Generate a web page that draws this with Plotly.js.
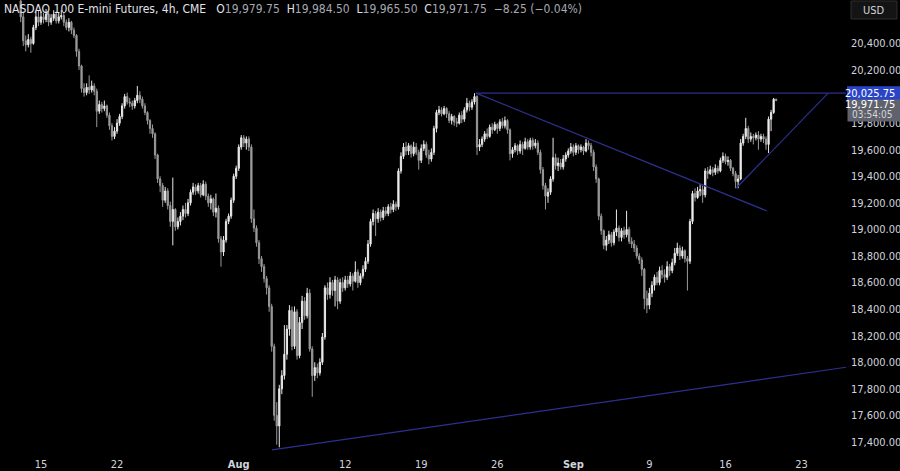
<!DOCTYPE html>
<html><head><meta charset="utf-8">
<script src="https://cdn.plot.ly/plotly-3.0.1.min.js"></script>
<style>html,body{margin:0;padding:0;background:#000;} #chart{width:900px;height:471px;}</style>
</head><body><div id="chart"></div>
<script>
// bar index of the first candle (0 = first 4h bar of Mon 15 Jul)
const firstBar = -8;

const openP = [
20720,20600,20420,20390,20430,20400,20520,20600,
20560,20600,20580,20620,20560,20590,20620,20570,20600,20610,
20560,20520,20560,20500,20460,20340,20230,20060,20030,20070,
20050,20080,20040,19890,19940,19910,19930,19860,19780,19700,
19740,19800,19850,19930,20000,19960,19950,19930,19970,20010,
19980,19930,19880,19820,19760,19720,19560,19380,19330,19220,
19290,19180,19060,19150,19020,19060,19100,19150,19120,19200,
19280,19320,19290,19330,19260,19340,19250,19200,19230,19130,
19160,18930,18830,18920,19060,19100,19220,19400,19460,19620,
19690,19650,19680,19620,19080,19010,18900,18780,18720,18630,
18560,18420,18120,17600,17520,17800,17900,18060,18250,18390,
18120,18380,18050,18300,18460,18350,18520,18100,17900,17960,
17920,18000,18190,18560,18510,18600,18540,18620,18460,18600,
18560,18620,18590,18650,18610,18680,18600,18650,18700,18760,
18890,19060,19120,19080,19130,19090,19140,19120,19170,19150,
19190,19170,19440,19550,19620,19590,19630,19570,19620,19580,
19520,19610,19640,19560,19530,19580,19760,19880,19900,19870,
19910,19870,19820,19850,19810,19800,19860,19830,19900,19950,
19920,19960,20000,19620,19640,19680,19720,19700,19770,19750,
19790,19760,19810,19780,19820,19750,19570,19600,19630,19590,
19640,19610,19660,19620,19670,19630,19650,19580,19450,19330,
19250,19280,19380,19540,19480,19500,19470,19530,19560,19590,
19620,19580,19630,19600,19620,19590,19650,19630,19580,19470,
19380,19100,18990,18880,18920,18960,18900,18980,19010,18940,
18990,18960,19000,18910,18890,18860,18800,18770,18700,18480,
18430,18520,18580,18640,18600,18690,18660,18640,18720,18690,
18750,18820,18860,18800,18840,18780,18760,19060,19270,19240,
19290,19300,19260,19440,19420,19450,19430,19460,19440,19520,
19550,19510,19520,19460,19420,19360,19380,19650,19700,19760,
19680,19700,19690,19710,19680,19700,19680,19640,19830,19880,
19979.75];

const highP = [
20760,20640,20460,20470,20450,20540,20640,20650,
20640,20630,20660,20640,20620,20650,20640,20630,20650,20630,
20580,20590,20570,20520,20470,20360,20240,20100,20100,20160,
20120,20100,20060,19970,19960,19970,19940,19880,19800,19770,
19830,19870,19950,20020,20030,19990,19970,19990,20080,20040,
20000,19950,19890,19830,19790,19730,19570,19400,19350,19320,
19310,19210,19390,19160,19090,19130,19180,19200,19230,19300,
19350,19340,19350,19350,19370,19360,19270,19260,19240,19270,
19180,18950,18950,19080,19120,19240,19420,19480,19640,19710,
19710,19700,19700,19640,19150,19030,18920,18800,18740,18650,
18580,18440,18140,17700,17830,17940,18280,18280,18430,18420,
18420,18400,18340,18500,18490,18560,18550,18120,18000,17990,
18030,18220,18580,18600,18640,18620,18650,18640,18630,18640,
18650,18650,18680,18670,18760,18700,18670,18730,18790,18920,
19080,19150,19140,19160,19150,19170,19170,19190,19200,19220,
19210,19460,19580,19650,19660,19650,19640,19660,19650,19600,
19640,19670,19660,19600,19610,19780,19900,19930,19920,19930,
19920,19890,19870,19860,19840,19880,19890,19920,19990,19970,
19980,20025.75,20010,19680,19700,19740,19760,19790,19800,19810,
19800,19830,19840,19850,19830,19760,19620,19650,19640,19670,
19660,19690,19680,19690,19690,19680,19670,19600,19470,19350,
19310,19400,19690,19570,19540,19530,19560,19580,19610,19650,
19640,19650,19640,19640,19630,19680,19670,19650,19600,19490,
19390,19120,19000,18950,18990,18980,19000,19150,19030,19010,
19020,19140,19020,18940,18920,18880,18820,18790,18710,18540,
18560,18610,18660,18680,18720,18730,18700,18760,18740,18780,
18860,18900,18880,18870,18850,18800,19080,19290,19310,19320,
19340,19330,19460,19470,19480,19470,19490,19480,19540,19580,
19570,19550,19530,19470,19440,19410,19680,19720,19840,19780,
19730,19720,19730,19740,19720,19720,19700,19850,19900,19990,
19984.5];

const lowP = [
20560,20380,20340,20370,20330,20390,20500,20530,
20540,20550,20560,20530,20540,20570,20550,20550,20580,20530,
20500,20490,20470,20440,20300,20200,20030,20000,20010,20020,
20030,20010,19770,19870,19880,19890,19840,19750,19670,19680,
19720,19780,19830,19910,19940,19920,19900,19910,19950,19950,
19910,19860,19790,19720,19690,19530,19350,19280,19170,19200,
19150,19020,18880,18990,19000,19030,19070,19090,19100,19180,
19260,19260,19270,19240,19250,19220,19170,19150,19100,19090,
18900,18720,18800,18900,19040,19080,19200,19380,19440,19600,
19620,19600,19590,19050,18980,18870,18740,18680,18600,18510,
18380,18080,17560,17380,17360,17760,17870,18020,18200,18090,
18100,18020,18030,18250,18320,18330,18080,17740,17860,17880,
17900,17980,18170,18470,18480,18500,18420,18400,18440,18530,
18540,18560,18570,18540,18600,18560,18580,18630,18680,18740,
18870,19030,18950,19050,19060,19070,19100,19100,19120,19130,
19140,19150,19420,19530,19560,19560,19540,19550,19560,19450,
19500,19590,19540,19490,19510,19560,19730,19860,19850,19860,
19840,19800,19790,19780,19770,19790,19800,19810,19880,19890,
19900,19940,19560,19590,19620,19660,19680,19690,19720,19740,
19720,19740,19760,19760,19720,19520,19540,19580,19560,19570,
19560,19600,19600,19600,19600,19610,19560,19420,19300,19150,
19200,19260,19360,19450,19440,19450,19450,19510,19540,19570,
19550,19560,19570,19580,19560,19580,19600,19550,19440,19350,
19070,18960,18850,18840,18890,18870,18880,18950,18910,18910,
18930,18940,18890,18860,18830,18780,18740,18650,18400,18370,
18400,18490,18540,18580,18580,18630,18600,18620,18650,18670,
18730,18800,18770,18780,18750,18540,18740,19040,19210,19230,
19250,19200,19240,19380,19410,19400,19410,19420,19430,19500,
19490,19480,19440,19400,19310,19310,19370,19630,19680,19650,
19660,19640,19670,19600,19660,19650,19600,19575,19740,19870,
19965.5];

const closeP = [
20600,20420,20390,20430,20400,20520,20600,20560,
20600,20580,20620,20560,20590,20620,20570,20600,20610,20560,
20520,20560,20500,20460,20340,20230,20060,20030,20070,20050,
20080,20040,19890,19940,19910,19930,19860,19780,19700,19740,
19800,19850,19930,20000,19960,19950,19930,19970,20010,19980,
19930,19880,19820,19760,19720,19560,19380,19330,19220,19290,
19180,19060,19150,19020,19060,19100,19150,19120,19200,19280,
19320,19290,19330,19260,19340,19250,19200,19230,19130,19160,
18930,18830,18920,19060,19100,19220,19400,19460,19620,19690,
19650,19680,19620,19080,19010,18900,18780,18720,18630,18560,
18420,18120,17600,17520,17800,17900,18060,18250,18390,18120,
18380,18050,18300,18460,18350,18520,18100,17900,17960,17920,
18000,18190,18560,18510,18600,18540,18620,18460,18600,18560,
18620,18590,18650,18610,18680,18600,18650,18700,18760,18890,
19060,19120,19080,19130,19090,19140,19120,19170,19150,19190,
19170,19440,19550,19620,19590,19630,19570,19620,19580,19520,
19610,19640,19560,19530,19580,19760,19880,19900,19870,19910,
19870,19820,19850,19810,19800,19860,19830,19900,19950,19920,
19960,20000,19620,19640,19680,19720,19700,19770,19750,19790,
19760,19810,19780,19820,19750,19570,19600,19630,19590,19640,
19610,19660,19620,19670,19630,19650,19580,19450,19330,19250,
19280,19380,19540,19480,19500,19470,19530,19560,19590,19620,
19580,19630,19600,19620,19590,19650,19630,19580,19470,19380,
19100,18990,18880,18920,18960,18900,18980,19010,18940,18990,
18960,19000,18910,18890,18860,18800,18770,18700,18480,18430,
18520,18580,18640,18600,18690,18660,18640,18720,18690,18750,
18820,18860,18800,18840,18780,18760,19060,19270,19240,19290,
19300,19260,19440,19420,19450,19430,19460,19440,19520,19550,
19510,19520,19460,19420,19360,19380,19650,19700,19760,19680,
19700,19690,19710,19680,19700,19680,19640,19830,19880,19980,
19971.75];

// date ticks (bar index of each labelled session) and their labels
const tickBars = [0, 30, 78, 120, 150, 180, 210, 240, 270, 300];
const tickLabels = ['15', '22', '<b>Aug</b>', '12', '19', '26', '<b>Sep</b>', '9', '16', '23'];
const priceTicks = [17400,17600,17800,18000,18200,18400,18600,18800,19000,19200,19400,19600,19800,20000,20200,20400];
const shownPriceTicks = priceTicks.filter(v => v !== 20000);

// drawn lines: [barStart, priceStart, barEnd, priceEnd]
const resistance = 20025.75;
const trendlines = [
  [171.6, resistance, 318.5, resistance],
  [171.6, resistance, 286.4, 19139],
  [274.2, 19310, 310.5, resistance],
  [91.1, 17340, 318.5, 17965]
];
const countdown = '03:54:05';

const fmt = v => v.toLocaleString('en-US', {minimumFractionDigits: 2, maximumFractionDigits: 2});
const xIdx = closeP.map((_, i) => firstBar + i);
const n = closeP.length;
const lastO = openP[n-1], lastH = highP[n-1], lastL = lowP[n-1], lastC = closeP[n-1];
const chg = lastC - closeP[n-2];
const pct = chg / closeP[n-2] * 100;
const signed = v => (v < 0 ? '\u2212' : '') + fmt(Math.abs(v));

const FONT = "'Liberation Sans Narrow', 'DejaVu Sans Condensed', 'Roboto Condensed', 'Liberation Sans', sans-serif";
const valCol = '#a6a9b2';
const GAP = '&nbsp;&nbsp;';
const val = t => '<span style="color:' + valCol + '">' + t + '</span>';
const header = 'NASDAQ 100 E-mini Futures, 4h, CME' + GAP + '&nbsp;' +
  'O' + val(fmt(lastO)) + GAP + 'H' + val(fmt(lastH)) + GAP +
  'L' + val(fmt(lastL)) + GAP + 'C' + val(fmt(lastC)) + GAP +
  val(signed(chg) + ' (' + signed(pct) + '%)');

const PLOT_W = 846, PLOT_H = 453;
const py = p => (PLOT_H - p) / PLOT_H;   // pixel row -> paper fraction
const px = p => p / PLOT_W;              // pixel column -> paper fraction

const lineCol = '#2c3190';
const shapes = trendlines.map(t => ({
  type: 'line', xref: 'x', yref: 'y', x0: t[0], y0: t[1], x1: t[2], y1: t[3],
  line: {color: lineCol, width: 1.2}, layer: 'above'
}));
// USD box
shapes.push({type: 'rect', xref: 'paper', yref: 'paper', x0: px(851), x1: px(897), y0: py(19), y1: py(1),
  fillcolor: '#141414', line: {color: '#2e2e2e', width: 1}});
// resistance price label box (blue), centred on the line
shapes.push({type: 'rect', xref: 'paper', yref: 'y', ysizemode: 'pixel', yanchor: resistance,
  x0: px(847), x1: px(900), y0: -7, y1: 7, fillcolor: '#2a44c8', line: {width: 0}});

const trace = {
  type: 'candlestick', x: xIdx, open: openP, high: highP, low: lowP, close: closeP,
  increasing: {line: {color: '#e8e8e8', width: 1}, fillcolor: '#f4f4f4'},
  decreasing: {line: {color: '#9a9a9a', width: 1}, fillcolor: '#9a9a9a'},
  whiskerwidth: 0, hoverinfo: 'skip', showlegend: false
};

const labelFont = {size: 11, color: '#ffffff', family: FONT};
const layout = {
  width: 900, height: 471,
  margin: {l: 0, r: 900 - PLOT_W, t: 0, b: 471 - PLOT_H, pad: 0},
  paper_bgcolor: '#000000', plot_bgcolor: '#000000',
  font: {family: FONT, color: '#d1d4dc', size: 11},
  showlegend: false,
  xaxis: {
    range: [-16.17, 317.55], showgrid: false, zeroline: false, showline: false,
    tickvals: tickBars, ticktext: tickLabels, ticks: '', ticklabelstandoff: 3,
    tickfont: {size: 11, color: '#d1d4dc'},
    rangeslider: {visible: false}, fixedrange: true
  },
  yaxis: {
    side: 'right', range: [17317, 20727], showgrid: false, zeroline: false, showline: false,
    tickvals: shownPriceTicks, ticktext: shownPriceTicks.map(fmt), ticks: '', ticklen: 0,
    ticklabelstandoff: 4, tickfont: {size: 11, color: '#d1d4dc'}, fixedrange: true
  },
  shapes: shapes,
  annotations: [
    {xref: 'paper', yref: 'paper', x: px(2), y: py(9), xanchor: 'left', yanchor: 'middle',
     text: header, showarrow: false, align: 'left', font: {size: 12, color: '#e0e3eb', family: FONT}},
    {xref: 'paper', yref: 'paper', x: px(874), y: py(10), xanchor: 'center', yanchor: 'middle',
     text: 'USD', showarrow: false, font: {size: 11, color: '#d1d4dc', family: FONT}},
    {xref: 'paper', yref: 'y', x: px(896), y: resistance, xanchor: 'right', yanchor: 'middle',
     text: fmt(resistance), showarrow: false, borderpad: 0, font: labelFont},
    // grey last-price box, drawn over the axis labels like the reference
    {xref: 'paper', yref: 'y', x: px(847), y: resistance, yshift: -17.5, xanchor: 'left', yanchor: 'middle',
     text: '&nbsp;', showarrow: false, borderpad: 0, width: 53, height: 21, bgcolor: '#5f626c',
     font: {size: 8, color: '#5f626c', family: FONT}},
    {xref: 'paper', yref: 'y', x: px(896), y: resistance, yshift: -11.5, xanchor: 'right', yanchor: 'middle',
     text: fmt(lastC), showarrow: false, borderpad: 0, font: labelFont},
    {xref: 'paper', yref: 'y', x: px(851), y: resistance, yshift: -21.5, xanchor: 'left', yanchor: 'middle',
     text: countdown, showarrow: false, borderpad: 0, font: {size: 10, color: '#d6d6d6', family: FONT}}
  ]
};

Plotly.newPlot('chart', [trace], layout, {displayModeBar: false, staticPlot: true});
</script>
</body></html>
